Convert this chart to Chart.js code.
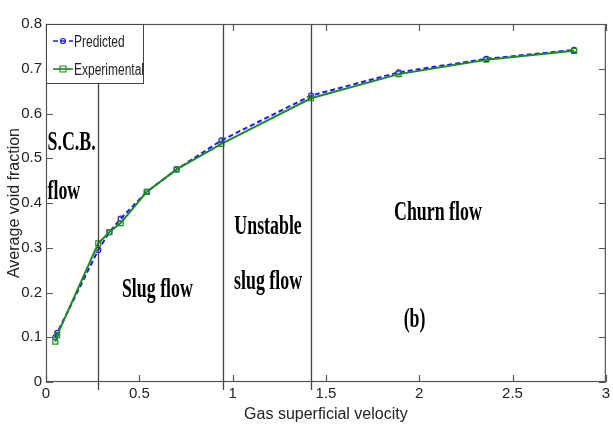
<!DOCTYPE html>
<html><head><meta charset="utf-8">
<script src="https://cdn.jsdelivr.net/npm/chart.js@4.4.0/dist/chart.umd.min.js"></script>
<style>html,body{margin:0;padding:0;background:#fff}#wrap{width:613px;height:433px}</style>
</head><body><div id="wrap"><canvas id="c" width="613" height="433"></canvas></div>
<script>
const velocity = [0.05, 0.06, 0.28, 0.34, 0.40, 0.54, 0.70, 0.94, 1.42, 1.89, 2.36, 2.83];
const predicted = [0.10, 0.11, 0.295, 0.335, 0.365, 0.425, 0.475, 0.54, 0.64, 0.692, 0.722, 0.742];
const experimental = [0.09, 0.105, 0.31, 0.335, 0.355, 0.425, 0.475, 0.532, 0.634, 0.688, 0.72, 0.74];
const boundaries = [0.28, 0.95, 1.42];
const xTicks = [0, 0.5, 1, 1.5, 2, 2.5, 3];
const yTicks = [0, 0.1, 0.2, 0.3, 0.4, 0.5, 0.6, 0.7, 0.8];
const regionLabels = [
  {text: 'S.C.B.', x: 0.008, y: 0.534, align: 'left'},
  {text: 'flow', x: 0.008, y: 0.425, align: 'left'},
  {text: 'Slug flow', x: 0.597, y: 0.206, align: 'center'},
  {text: 'Unstable', x: 1.19, y: 0.346, align: 'center'},
  {text: 'slug flow', x: 1.19, y: 0.223, align: 'center'},
  {text: 'Churn flow', x: 2.10, y: 0.378, align: 'center'},
  {text: '(b)', x: 1.975, y: 0.139, align: 'center'}
];

const decor = {
  id: 'decor',
  afterDatasetsDraw(chart) {
    const ctx = chart.ctx, a = chart.chartArea, xs = chart.scales.x, ys = chart.scales.y;
    ctx.save();
    ctx.strokeStyle = '#444'; ctx.lineWidth = 1.3;
    boundaries.forEach(b => {
      const px = Math.round(xs.getPixelForValue(b)) + 0.5;
      ctx.beginPath(); ctx.moveTo(px, a.top); ctx.lineTo(px, a.bottom + 8); ctx.stroke();
    });
    ctx.strokeStyle = '#555'; ctx.lineWidth = 1.2;
    ctx.strokeRect(a.left + 0.5, a.top + 0.5, a.right - a.left - 1, a.bottom - a.top - 1);
    ctx.beginPath();
    xTicks.forEach(v => {
      const px = Math.round(xs.getPixelForValue(v)) + 0.5;
      ctx.moveTo(px, a.bottom); ctx.lineTo(px, a.bottom - 7);
      ctx.moveTo(px, a.top); ctx.lineTo(px, a.top + 7);
    });
    yTicks.forEach(v => {
      const py = Math.round(ys.getPixelForValue(v)) + 0.5;
      ctx.moveTo(a.left, py); ctx.lineTo(a.left + 7, py);
      ctx.moveTo(a.right, py); ctx.lineTo(a.right - 7, py);
    });
    ctx.stroke();
    ctx.fillStyle = '#000';
    ctx.font = 'bold 21px "Liberation Serif", "DejaVu Serif", serif';
    ctx.textBaseline = 'middle';
    regionLabels.forEach(l => {
      const px = xs.getPixelForValue(l.x), py = ys.getPixelForValue(l.y);
      ctx.save();
      ctx.translate(px, py);
      ctx.scale(0.85, 1.32);
      ctx.textAlign = l.align;
      ctx.fillText(l.text, 0, 0);
      ctx.restore();
    });
    // legend
    const lx = a.left, ly = a.top, lw = 97, lh = 59;
    ctx.fillStyle = '#fff';
    ctx.fillRect(lx + 1, ly + 1, lw, lh);
    ctx.strokeStyle = '#444'; ctx.lineWidth = 1;
    ctx.strokeRect(lx + 0.5, ly + 0.5, lw, lh);
    chart.data.datasets.forEach((ds, i) => {
      const yy = ly + 17 + i * 28;
      ctx.strokeStyle = ds.borderColor; ctx.lineWidth = 1.6;
      ctx.setLineDash(ds.borderDash || []);
      ctx.beginPath(); ctx.moveTo(lx + 7, yy); ctx.lineTo(lx + 27, yy); ctx.stroke();
      ctx.setLineDash([]);
      ctx.lineWidth = 1.2;
      ctx.beginPath();
      if (ds.pointStyle === 'rect') ctx.rect(lx + 14, yy - 3, 6, 6);
      else ctx.arc(lx + 17, yy, 2.5, 0, Math.PI * 2);
      ctx.stroke();
      ctx.fillStyle = '#222';
      ctx.font = '15px "Liberation Sans", Arial, sans-serif';
      ctx.textAlign = 'left';
      ctx.save(); ctx.translate(lx + 28, yy + 1); ctx.scale(0.8, 1.15);
      ctx.fillText(ds.label, 0, 0); ctx.restore();
    });
    ctx.restore();
  }
};

new Chart(document.getElementById('c'), {
  type: 'line',
  data: {
    datasets: [
      {label: 'Predicted', data: velocity.map((v, i) => ({x: v, y: predicted[i]})),
       borderColor: '#1a1aff', backgroundColor: 'rgba(0,0,0,0)', borderWidth: 2, borderDash: [5, 3],
       pointStyle: 'circle', pointRadius: 2.5, pointBorderWidth: 1.2, tension: 0, order: 2},
      {label: 'Experimental', data: velocity.map((v, i) => ({x: v, y: experimental[i]})),
       borderColor: '#1f8a1f', backgroundColor: 'rgba(0,0,0,0)', borderWidth: 2,
       pointStyle: 'rect', pointRadius: 3.5, pointBorderWidth: 1.2, tension: 0, order: 1}
    ]
  },
  options: {
    responsive: false, animation: false, devicePixelRatio: 1,
    layout: {padding: {top: 24, right: 6, left: 0, bottom: 0}},
    plugins: {legend: {display: false}, tooltip: {enabled: false}},
    scales: {
      x: {type: 'linear', min: 0, max: 3,
          afterBuildTicks: s => { s.ticks = xTicks.map(v => ({value: v})); },
          afterFit: s => { s.height = 51; },
          grid: {display: false, drawTicks: false},
          border: {display: false},
          ticks: {color: '#222', padding: 3, maxRotation: 0, autoSkip: false,
                  font: {family: '"Liberation Sans", Arial, sans-serif', size: 15},
                  callback: v => String(v)},
          title: {display: true, text: 'Gas superficial velocity', color: '#222', padding: {top: 1, bottom: 9},
                  font: {family: '"Liberation Sans", Arial, sans-serif', size: 16}}},
      y: {type: 'linear', min: 0, max: 0.8,
          afterBuildTicks: s => { s.ticks = yTicks.map(v => ({value: v})); },
          afterFit: s => { s.width = 46; },
          grid: {display: false, drawTicks: false},
          border: {display: false},
          ticks: {color: '#222', padding: 4, autoSkip: false,
                  font: {family: '"Liberation Sans", Arial, sans-serif', size: 15},
                  callback: v => String(Math.round(v * 10) / 10)},
          title: {display: true, text: 'Average void fraction', color: '#222', padding: {top: 5, bottom: 0},
                  font: {family: '"Liberation Sans", Arial, sans-serif', size: 16}}}
    }
  },
  plugins: [decor]
});
</script></body></html>
